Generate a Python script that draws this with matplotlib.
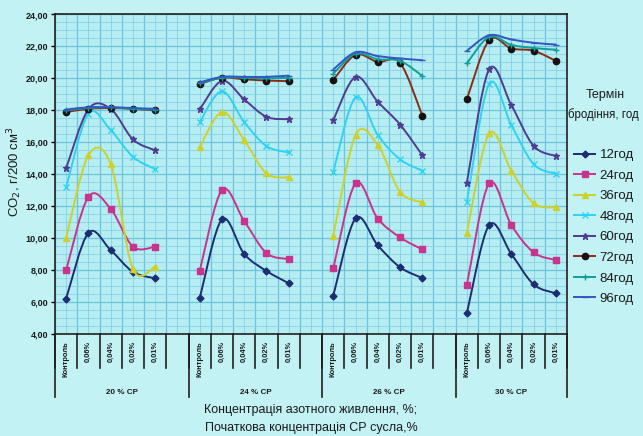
import numpy as np
import matplotlib
matplotlib.use("Agg")
import matplotlib.pyplot as plt
from matplotlib.path import Path
from matplotlib.patches import PathPatch
from matplotlib.lines import Line2D

# ---------------- data ----------------
groups = ['20 % СР', '24 % СР', '26 % СР', '30 % СР']
concs = ['Контроль', '0,06%', '0,04%', '0,02%', '0,01%']
labels = ['12год', '24год', '36год', '48год', '60год', '72год', '84год', '96год']

h12 = [6.23, 10.35, 9.27, 7.90, 7.50,   6.25, 11.19, 9.02, 7.96, 7.19,
       6.41, 11.25, 9.56, 8.19, 7.52,   5.31, 10.83, 9.02, 7.12, 6.56]
h24 = [8.00, 12.60, 11.85, 9.48, 9.48,  7.96, 13.02, 11.08, 9.08, 8.70,
       8.12, 13.44, 11.23, 10.06, 9.31, 7.08, 13.44, 10.83, 9.12, 8.64]
h36 = [10.04, 15.20, 14.65, 8.08, 8.23, 15.69, 17.90, 16.14, 14.06, 13.81,
       10.16, 16.46, 15.83, 12.91, 12.25, 10.35, 16.56, 14.23, 12.19, 11.94]
h48 = [13.20, 17.80, 16.77, 15.10, 14.33, 17.27, 19.20, 17.27, 15.77, 15.37,
       14.16, 18.81, 16.46, 14.94, 14.23, 12.25, 19.66, 17.08, 14.64, 14.04]
h60 = [14.38, 18.08, 18.10, 16.19, 15.50, 18.06, 19.85, 18.69, 17.60, 17.45,
       17.39, 20.10, 18.54, 17.12, 15.20, 13.46, 20.57, 18.33, 15.78, 15.15]
h72 = [17.90, 18.10, 18.15, 18.10, 18.00, 19.65, 20.05, 19.95, 19.87, 19.83,
       19.90, 21.48, 21.03, 20.98, 17.68, 18.70, 22.39, 21.87, 21.73, 21.10]
h84 = [18.00, 18.15, 18.20, 18.10, 18.05, 19.70, 20.05, 20.05, 20.00, 20.05,
       20.30, 21.55, 21.20, 21.10, 20.16, 20.94, 22.60, 22.10, 21.90, 21.80]
h96 = [18.05, 18.20, 18.20, 18.15, 18.10, 19.75, 20.10, 20.10, 20.10, 20.18,
       20.56, 21.64, 21.40, 21.25, 21.14, 21.73, 22.70, 22.44, 22.23, 22.12]

series = [h12, h24, h36, h48, h60, h72, h84, h96]

# ---------------- styles ----------------
colors = ['#1c2d72', '#c8338c', '#cdd12a', '#2ed2f2', '#4d3c92', '#8a2c14', '#129e98', '#3258c4']
mfc = ['#1c2d72', '#c8338c', '#cdd12a', '#2ed2f2', '#4d3c92', '#1a1010', '#129e98', '#3258c4']
markers = ['D', 's', '^', 'x', '*', 'o', '+', '_']
msizes = [3.5, 4.0, 4.5, 4.0, 4.5, 4.5, 5.0, 5.0]

plt.rcParams['font.family'] = ['Liberation Sans', 'DejaVu Sans']
TXT = '#1a1a1a'

W, H = 643, 436
fig = plt.figure(figsize=(W / 100, H / 100), dpi=100)
fig.patch.set_facecolor('#c2f2f4')

L, R, T, B = 55, 567, 14.5, 334.3
ax = fig.add_axes([L / W, 1 - B / H, (R - L) / W, (B - T) / H])
ax.set_facecolor('#b6edf2')

nslots = 23
ax.set_xlim(-0.5, nslots - 0.5)
ax.set_ylim(4, 24)

# grid
ax.set_xticks(np.arange(-0.5, nslots, 1.0))
ax.set_xticks(np.arange(0, nslots, 1.0), minor=True)
ax.set_yticks(np.arange(4, 24.01, 2))
ax.set_yticks(np.arange(4, 24.01, 0.5), minor=True)
ax.grid(True, which='major', color='#6cc4dc', lw=0.9)
ax.grid(True, which='minor', color='#86d2e4', lw=0.6)
ax.set_axisbelow(True)
ax.tick_params(axis='x', which='both', length=0, labelbottom=False)
ax.tick_params(axis='y', which='minor', length=0)
ax.tick_params(axis='y', which='major', length=3, width=1, direction='out', pad=2)
ax.set_yticklabels([f'{v:.2f}'.replace('.', ',') for v in np.arange(4, 24.01, 2)],
                   fontsize=6.5, fontweight='bold', color=TXT)
for s in ax.spines.values():
    s.set_color('#202020')
    s.set_linewidth(1.2)


def smooth_path(xs, ys):
    pts = np.column_stack([xs, ys]).astype(float)
    n = len(pts)
    verts = [pts[0]]
    codes = [Path.MOVETO]
    for i in range(n - 1):
        p0 = pts[i - 1] if i > 0 else pts[i]
        p1 = pts[i]
        p2 = pts[i + 1]
        p3 = pts[i + 2] if i + 2 < n else pts[i + 1]
        c1 = p1 + (p2 - p0) / 6.0
        c2 = p2 - (p3 - p1) / 6.0
        verts += [c1, c2, p2]
        codes += [Path.CURVE4] * 3
    return Path(verts, codes)


handles = []
for k, vals in enumerate(series):
    for g in range(len(groups)):
        xs = np.arange(5) + 6 * g
        ys = np.array(vals[5 * g:5 * g + 5])
        ax.add_patch(PathPatch(smooth_path(xs, ys), fill=False, edgecolor=colors[k],
                               lw=1.4, zorder=3 + k, capstyle='round', joinstyle='round'))
        ax.plot(xs, ys, ls='none', marker=markers[k], ms=msizes[k], color=colors[k],
                mfc=mfc[k], mec=mfc[k], mew=1.0, zorder=3 + k)
    handles.append(Line2D([], [], color=colors[k], lw=1.4, marker=markers[k],
                          ms=msizes[k], mfc=mfc[k], mec=mfc[k], mew=1.0))

# ---------------- category axis ----------------
xt = ax.get_xaxis_transform()


def ya(ypix):
    return (B - ypix) / (B - T)


for b in np.arange(-0.5, nslots, 1.0):
    ax.plot([b, b], [0, ya(368)], transform=xt, color='#202020', lw=1.2, clip_on=False)
for b in [-0.5, 5.5, 11.5, 17.5, 22.5]:
    ax.plot([b, b], [0, ya(397)], transform=xt, color='#202020', lw=1.2, clip_on=False)

for g in range(len(groups)):
    for j, c in enumerate(concs):
        ax.text(6 * g + j, ya(341), c, transform=xt, rotation=90, ha='center', va='top',
                fontsize=5.4, fontweight='bold', color=TXT)
    lo = -0.5 + 6 * g
    hi = min(lo + 6, nslots - 0.5)
    ax.text((lo + hi) / 2, ya(392), groups[g], transform=xt, ha='center', va='center',
            fontsize=5.8, fontweight='bold', color=TXT)

fig.text(311 / W, 1 - 410 / H, 'Концентрація азотного живлення, %;', ha='center', va='center',
         fontsize=9, color=TXT)
fig.text(311 / W, 1 - 428 / H, 'Початкова концентрація СР сусла,%', ha='center', va='center',
         fontsize=9, color=TXT)

fig.text(15 / W, 1 - 172 / H, 'CO$_2$, г/200 см$^3$', rotation=90, ha='center', va='center',
         fontsize=9.5, color=TXT)

# ---------------- legend ----------------
fig.text(605 / W, 1 - 95 / H, 'Термін', ha='center', va='center', fontsize=9, color=TXT)
fig.text(639 / W, 1 - 115 / H, 'бродіння, год', ha='right', va='center', fontsize=8.3,
         color=TXT)
fig.legend(handles, labels, loc='upper left', bbox_to_anchor=(574 / W, 1 - 149 / H),
           frameon=False, fontsize=9.5, handlelength=1.6, handletextpad=0.35,
           labelspacing=0.63, borderaxespad=0, borderpad=0, labelcolor=TXT)

fig.savefig('out.png', dpi=100, facecolor=fig.get_facecolor())
